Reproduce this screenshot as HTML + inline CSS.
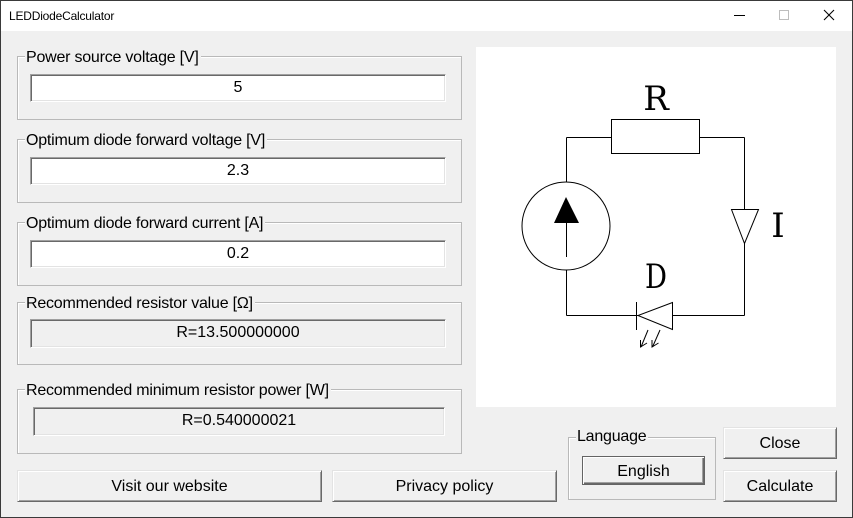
<!DOCTYPE html>
<html><head><meta charset="utf-8">
<style>
*{box-sizing:border-box;margin:0;padding:0}
html,body{width:853px;height:518px;overflow:hidden;background:#f0f0f0}
body{position:relative;font-family:"Liberation Sans",Arial,sans-serif;color:#000}
.win{position:absolute;left:0;top:0;width:853px;height:518px;border:1px solid #3a3a3a;background:#f0f0f0}
.title{position:absolute;left:1px;top:1px;width:851px;height:30px;background:#fff}
.ttext{position:absolute;left:9px;top:8px;font-size:12px;letter-spacing:-0.2px;line-height:16px;white-space:nowrap}
.grp{position:absolute;border:1px solid #b9b9b9;box-shadow:inset 1px 1px 0 #fff}
.glab{position:absolute;font-size:16px;letter-spacing:-0.22px;line-height:18px;background:#f0f0f0;padding:0 2px 0 1px;white-space:nowrap}
.edit{position:absolute;background:#fff;border-top:1px solid #a0a0a0;border-left:1px solid #a0a0a0;border-bottom:1px solid #fff;border-right:1px solid #fff;box-shadow:inset 1px 1px 0 #696969,inset -1px -1px 0 #e3e3e3;font-size:16px;text-align:center;line-height:26px;white-space:nowrap}
.stat{background:#f0f0f0}
.btn{position:absolute;background:#f0f0f0;border-top:1px solid #e3e3e3;border-left:1px solid #e3e3e3;border-bottom:1px solid #696969;border-right:1px solid #696969;box-shadow:inset 1px 1px 0 #fff,inset -1px -1px 0 #a0a0a0;font-size:16px;text-align:center;line-height:32px;white-space:nowrap}
.def{border:1px solid #646464;box-shadow:inset 1px 1px 0 #fff,inset -1px -1px 0 #696969,inset -2px -2px 0 #a0a0a0;line-height:29px}
svg{position:absolute;left:0;top:0}
</style></head><body>
<div class="win"></div>
<div class="title"></div>
<div class="ttext">LEDDiodeCalculator</div>

<!-- Group 1 -->
<div class="grp" style="left:17px;top:56px;width:445px;height:64px"></div>
<div class="glab" style="left:25px;top:48.5px">Power source voltage [V]</div>
<div class="edit" style="left:30px;top:74px;width:416px;height:28px">5</div>

<!-- Group 2 -->
<div class="grp" style="left:17px;top:139px;width:445px;height:64px"></div>
<div class="glab" style="left:25px;top:132px">Optimum diode forward voltage [V]</div>
<div class="edit" style="left:30px;top:157px;width:416px;height:28px">2.3</div>

<!-- Group 3 -->
<div class="grp" style="left:17px;top:222px;width:445px;height:64px"></div>
<div class="glab" style="left:25px;top:215px">Optimum diode forward current [A]</div>
<div class="edit" style="left:30px;top:240px;width:416px;height:28px">0.2</div>

<!-- Group 4 -->
<div class="grp" style="left:17px;top:302px;width:445px;height:63px"></div>
<div class="glab" style="left:25px;top:294.5px">Recommended resistor value [Ω]</div>
<div class="edit stat" style="left:30px;top:319px;width:416px;height:29px">R=13.500000000</div>

<!-- Group 5 -->
<div class="grp" style="left:17px;top:389px;width:445px;height:65px"></div>
<div class="glab" style="left:25px;top:381.5px">Recommended minimum resistor power [W]</div>
<div class="edit stat" style="left:33px;top:407px;width:412px;height:29px">R=0.540000021</div>

<!-- Buttons -->
<div class="btn" style="left:17px;top:470px;width:305px;height:32px">Visit our website</div>
<div class="btn" style="left:332px;top:470px;width:225px;height:32px">Privacy policy</div>
<div class="btn" style="left:723px;top:427px;width:114px;height:32px">Close</div>
<div class="btn" style="left:723px;top:470px;width:114px;height:32px">Calculate</div>

<!-- Language group -->
<div class="grp" style="left:568px;top:437px;width:148px;height:63px"></div>
<div class="glab" style="left:576px;top:428px">Language</div>
<div class="btn def" style="left:582px;top:456px;width:123px;height:29px">English</div>

<!-- Image panel -->
<div style="position:absolute;left:476px;top:47px;width:360px;height:360px;background:#fff"></div>

<svg width="853" height="518" viewBox="0 0 853 518" xmlns="http://www.w3.org/2000/svg">
  <!-- title bar buttons -->
  <line x1="734" y1="15.5" x2="745" y2="15.5" stroke="#000" stroke-width="1"/>
  <rect x="779.5" y="10.5" width="9" height="9" fill="none" stroke="#bdbdbd" stroke-width="1"/>
  <line x1="824" y1="10" x2="834" y2="20" stroke="#000" stroke-width="1.1"/>
  <line x1="834" y1="10" x2="824" y2="20" stroke="#000" stroke-width="1.1"/>

  <g stroke="#000" stroke-width="1" fill="none">
    <!-- top wires and resistor -->
    <line x1="566.5" y1="137.5" x2="611.5" y2="137.5"/>
    <rect x="611.5" y="119.5" width="88" height="34" fill="#fff"/>
    <line x1="699.5" y1="137.5" x2="744.5" y2="137.5"/>
    <!-- left side -->
    <line x1="566.5" y1="137.5" x2="566.5" y2="182"/>
    <circle cx="566" cy="226" r="44"/>
    <line x1="566.5" y1="220" x2="566.5" y2="257"/>
    <line x1="566.5" y1="270" x2="566.5" y2="315.5"/>
    <!-- bottom wire -->
    <line x1="566.5" y1="315.5" x2="744.5" y2="315.5"/>
    <!-- right side -->
    <line x1="744.5" y1="137.5" x2="744.5" y2="209.5"/>
    <polygon points="731.5,209.5 758.5,209.5 744.5,243.5" fill="#fff"/>
    <line x1="744.5" y1="243.5" x2="744.5" y2="315.5"/>
    <!-- diode -->
    <polygon points="672.5,302.5 672.5,329.5 638,315.5" fill="#fff"/>
    <line x1="636.5" y1="302" x2="636.5" y2="330"/>
    <!-- emission arrows -->
    <line x1="648" y1="330" x2="641" y2="347"/>
    <polyline points="640.5,340 640.5,347 647,343"/>
    <line x1="660" y1="330" x2="652.5" y2="347"/>
    <polyline points="652,340 652,347 658.5,343"/>
  </g>
  <polygon points="566,197 554,223 579,223" fill="#000"/>

  <g font-family="DejaVu Serif, Liberation Serif, serif" font-size="34" fill="#000" text-anchor="middle">
    <text x="656" y="110">R</text>
    <text x="656" y="288" textLength="22" lengthAdjust="spacingAndGlyphs">D</text>
    <text x="778" y="237">I</text>
  </g>
</svg>
</body></html>
